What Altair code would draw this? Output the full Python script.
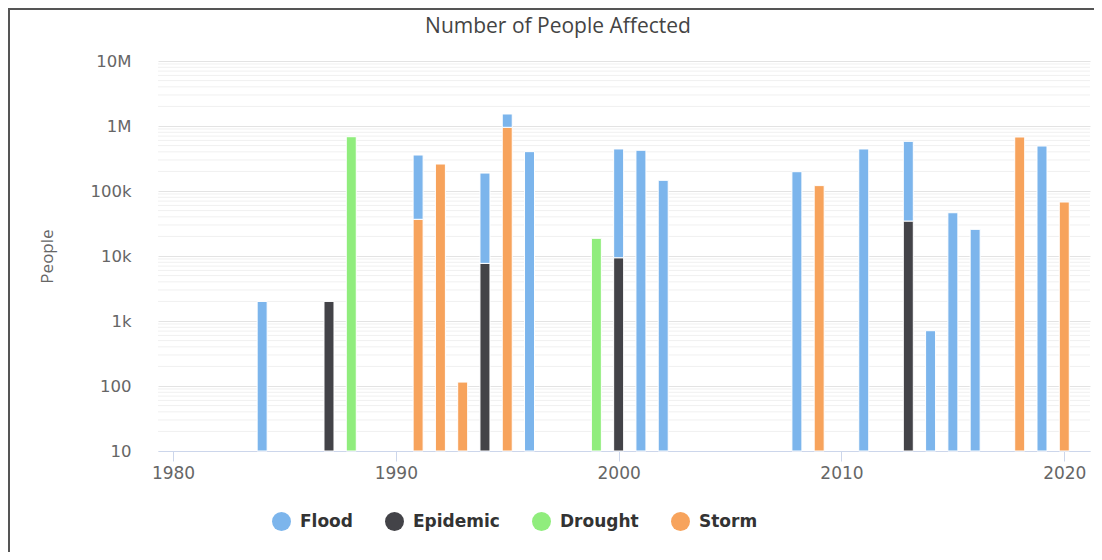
import altair as alt
import pandas as pd

# ---- data ----
series_names = ["Flood", "Epidemic", "Drought", "Storm"]
series_colors = ["#7cb5ec", "#434348", "#90ed7d", "#f7a35c"]

flood_years = [1984, 1991, 1994, 1995, 1996, 2000, 2001, 2002, 2008, 2011, 2013, 2014, 2015, 2016, 2019]
flood_values = [2000, 321000, 181000, 575000, 403000, 434000, 423000, 146000, 198000, 443000, 546000, 709, 46300, 25700, 492000]

epidemic_years = [1987, 1994, 2000, 2013]
epidemic_values = [2000, 7700, 9400, 34500]

drought_years = [1988, 1999]
drought_values = [684000, 18700]

storm_years = [1991, 1992, 1993, 1995, 2009, 2018, 2020]
storm_values = [36700, 260000, 115, 955000, 121000, 677000, 67700]

y_ticks = [10, 100, 1000, 10000, 100000, 1000000, 10000000]
x_ticks = [1980, 1990, 2000, 2010, 2020]
minor_multipliers = [2, 3, 4, 5, 6, 7, 8, 9]

# ---- build stacked table (Storm bottom ... Flood top) ----
rows = []
for name, yrs, vals in [("Storm", storm_years, storm_values),
                        ("Drought", drought_years, drought_values),
                        ("Epidemic", epidemic_years, epidemic_values),
                        ("Flood", flood_years, flood_values)]:
    for y, v in zip(yrs, vals):
        rows.append({"year": y, "series": name, "value": v})
df = pd.DataFrame(rows)
order_map = {"Storm": 0, "Drought": 1, "Epidemic": 2, "Flood": 3}
df["ord"] = df["series"].map(order_map)
df = df.sort_values(["year", "ord"])
df["top"] = df.groupby("year")["value"].cumsum()
df["bottom"] = (df["top"] - df["value"]).clip(lower=y_ticks[0])

minor = pd.DataFrame({"v": [m * d for d in y_ticks[:-1] for m in minor_multipliers]})

yscale = alt.Scale(type="log", domain=[y_ticks[0], y_ticks[-1]], nice=False)
xscale = alt.Scale(domain=[1979.55, 2020.93], nice=False, zero=False)

label_expr = ("datum.value >= 1000000 ? (datum.value/1000000) + 'M' : "
              "datum.value >= 1000 ? (datum.value/1000) + 'k' : datum.value + ''")

y_axis = alt.Axis(values=y_ticks, labelExpr=label_expr, grid=True,
                  gridColor="#e3e3e3", domain=False, ticks=False,
                  labelFont="DejaVu Sans", labelFontSize=16.5, labelColor="#666666",
                  labelPadding=27, title="People", titleFont="Open Sans",
                  titleFontSize=17, titleFontWeight="normal", titleColor="#666666",
                  titleX=-111, titleY=195, titleAngle=270, titleAlign="center",
                  titleBaseline="middle")
x_axis = alt.Axis(values=x_ticks, format="d", grid=False, title=None,
                  domainColor="#ccd6eb", tickColor="#ccd6eb", tickSize=10,
                  labelFont="DejaVu Sans", labelFontSize=17, labelColor="#666666",
                  labelPadding=4)

minor_grid = alt.Chart(minor).mark_rule(color="#f0f0f0", strokeWidth=1).encode(
    y=alt.Y("v:Q", scale=yscale, axis=y_axis, title="People")
)

bars = alt.Chart(df).mark_bar(size=10, stroke="white", strokeWidth=1).encode(
    x=alt.X("year:Q", scale=xscale, axis=x_axis),
    y=alt.Y("top:Q", scale=yscale, axis=y_axis, title="People"),
    y2="bottom:Q",
    color=alt.Color("series:N",
                    scale=alt.Scale(domain=series_names, range=series_colors),
                    legend=alt.Legend(title=None, orient="none", direction="horizontal",
                                      legendX=114, legendY=451, padding=0,
                                      symbolType="circle", symbolSize=361, symbolStrokeWidth=0,
                                      labelFont="DejaVu Sans", labelFontSize=17,
                                      labelFontWeight="bold", labelColor="#333333",
                                      labelOffset=9, columnPadding=32)),
    order=alt.Order("ord:Q"),
)

deco = alt.Data(values=[{}])
title_text = alt.Chart(deco).mark_text(font="Open Sans", fontSize=21, color="#444444",
                                       align="center", baseline="middle").encode(
    x=alt.value(400), y=alt.value(-34), text=alt.value("Number of People Affected")
)
frame_left = alt.Chart(deco).mark_rule(color="#555555", strokeWidth=2).encode(
    x=alt.value(-149), y=alt.value(-53), y2=alt.value(491)
)
frame_top = alt.Chart(deco).mark_rule(color="#555555", strokeWidth=2).encode(
    x=alt.value(-150), x2=alt.value(936), y=alt.value(-52)
)

chart = alt.layer(minor_grid, bars, title_text, frame_left, frame_top).properties(
    width=932, height=390,
    padding={"left": 150, "top": 53, "right": 4, "bottom": 101},
    autosize=alt.AutoSizeParams(type="none"),
).configure_view(strokeWidth=0, fill="white")

chart.save("out.html", embed_options={"renderer": "svg", "actions": False})
